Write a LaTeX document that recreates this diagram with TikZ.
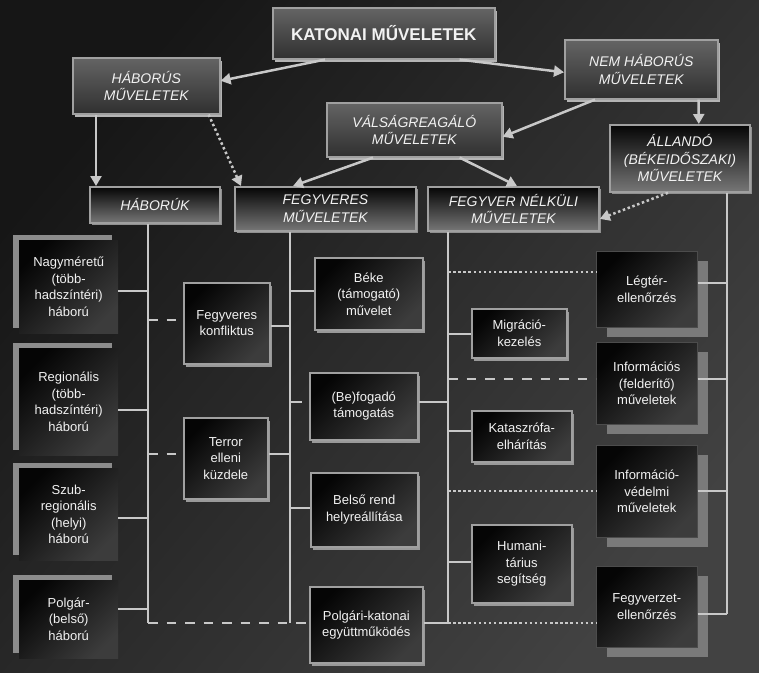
\documentclass[tikz,border=0pt]{standalone}
\usepackage{fontspec}
\setmainfont{Liberation Sans}
\usetikzlibrary{arrows.meta,shadows,calc}
\definecolor{bgdark}{HTML}{161616}
\definecolor{bglight}{HTML}{424242}
\definecolor{hdrtop}{HTML}{646464}
\definecolor{hdrbot}{HTML}{303030}
\definecolor{edge}{HTML}{A0A0A0}
\definecolor{shd}{HTML}{B4B4B4}
\definecolor{lin}{HTML}{C8C8C8}
\definecolor{txt}{HTML}{F2F2F2}
\definecolor{blk}{HTML}{050505}
\definecolor{sheen}{HTML}{3C3C3C}
\definecolor{lshd}{HTML}{8C8C8C}
\definecolor{rshd}{HTML}{7A7A7A}
\tikzset{
  base/.style={rectangle, anchor=north west, inner sep=2pt, align=center, text=txt,
    font=\fontsize{13}{16.5}\selectfont},
  hdrbox/.style={base, draw=edge, line width=1.6pt, top color=hdrtop, bottom color=hdrbot,
    font=\fontsize{14}{17.5}\selectfont\itshape,
    drop shadow={shadow xshift=2.5pt, shadow yshift=-3pt, fill=shd, opacity=1}},
  blkhdr/.style={base, draw=edge, line width=1.8pt, top color=blk, bottom color=sheen!70,
    font=\fontsize{14}{17.5}\selectfont\itshape,
    drop shadow={shadow xshift=2pt, shadow yshift=-2pt, fill=shd!80!black, opacity=1}},
  cbox/.style={base, draw=edge, line width=1.6pt, top color=blk, bottom color=sheen, shading angle=45,
    drop shadow={shadow xshift=2pt, shadow yshift=-3pt, fill=shd!85!black, opacity=1}},
  lbox/.style={base, top color=blk, bottom color=sheen, shading angle=45,
    drop shadow={shadow xshift=-6pt, shadow yshift=5pt, fill=lshd, opacity=1}},
  rbox/.style={base, draw=black!70, line width=0.6pt, top color=blk, bottom color=sheen, shading angle=45,
    drop shadow={shadow xshift=11pt, shadow yshift=-10pt, fill=rshd, opacity=1}},
  conn/.style={draw=lin, line width=2.5pt},
  dotl/.style={conn, dash pattern=on 2.5pt off 2.6pt},
  dashl/.style={conn, dash pattern=on 9.5pt off 9pt},
  arr/.style={conn, -{Triangle[length=10pt,width=11pt]}},
}
\begin{document}
\begin{tikzpicture}[x=1pt,y=-1pt]
\path[use as bounding box] (0,0) rectangle (759,672);
\shade[top color=bgdark, bottom color=bglight, shading angle=50] (0,0) rectangle (759,672);

% top level
\node[hdrbox, minimum width=222pt, minimum height=51pt,
  font=\fontsize{17}{20}\selectfont\bfseries] (kat) at (272,7) {KATONAI MŰVELETEK};
\node[hdrbox, minimum width=147pt, minimum height=56pt] (hab) at (72,57) {HÁBORÚS\\MŰVELETEK};
\node[hdrbox, minimum width=153pt, minimum height=59pt] (nem) at (564,39) {NEM HÁBORÚS\\MŰVELETEK};
\node[hdrbox, minimum width=175pt, minimum height=54pt] (val) at (326,102) {VÁLSÁGREAGÁLÓ\\MŰVELETEK};
\node[blkhdr, minimum width=140pt, minimum height=67pt] (all) at (609,124) {ÁLLANDÓ\\(BÉKEIDŐSZAKI)\\MŰVELETEK};
\node[blkhdr, minimum width=130pt, minimum height=36pt] (habk) at (89,186) {HÁBORÚK};
\node[blkhdr, minimum width=181pt, minimum height=44pt] (fegy) at (234,186) {FEGYVERES\\MŰVELETEK};
\node[blkhdr, minimum width=171pt, minimum height=44pt] (fnel) at (427,186) {FEGYVER NÉLKÜLI\\MŰVELETEK};

% left column
\node[lbox, minimum width=99pt, minimum height=93pt] (nagy) at (19,240) {Nagyméretű\\(több-\\hadszíntéri)\\háború};
\node[lbox, minimum width=99pt, minimum height=107pt] (reg) at (19,348) {Regionális\\(több-\\hadszíntéri)\\háború};
\node[lbox, minimum width=99pt, minimum height=92pt] (szub) at (19,468) {Szub-\\regionális\\(helyi)\\háború};
\node[lbox, minimum width=99pt, minimum height=78pt] (polg) at (19,580) {Polgár-\\(belső)\\háború};

% middle A
\node[cbox, minimum width=86pt, minimum height=81pt] (fk) at (183,282) {Fegyveres\\konfliktus};
\node[cbox, minimum width=84pt, minimum height=81pt] (ter) at (183,417) {Terror\\elleni\\küzdele};

% middle B
\node[cbox, minimum width=108pt, minimum height=72pt] (beke) at (314,257) {Béke\\(támogató)\\művelet};
\node[cbox, minimum width=108pt, minimum height=67pt] (befo) at (309,372) {(Be)fogadó\\támogatás};
\node[cbox, minimum width=107pt, minimum height=74pt] (bels) at (310,472) {Belső rend\\helyreállítása};
\node[cbox, minimum width=113pt, minimum height=76pt] (pk) at (309,586) {Polgári-katonai\\együttműködés};

% column C
\node[cbox, minimum width=95pt, minimum height=49pt] (migr) at (471,308) {Migráció-\\kezelés};
\node[cbox, minimum width=100pt, minimum height=51pt] (kat2) at (471,410) {Kataszrófa-\\elhárítás};
\node[cbox, minimum width=100pt, minimum height=78pt] (hum) at (471,524) {Humani-\\tárius\\segítség};

% column D
\node[rbox, minimum width=101pt, minimum height=76pt] (legt) at (596,251) {Légtér-\\ellenőrzés};
\node[rbox, minimum width=101pt, minimum height=82pt] (info) at (596,342) {Információs\\(felderítő)\\műveletek};
\node[rbox, minimum width=101pt, minimum height=92pt] (ivd) at (596,445) {Információ-\\védelmi\\műveletek};
\node[rbox, minimum width=101pt, minimum height=81pt] (fegyz) at (596,566) {Fegyverzet-\\ellenőrzés};

% trunk coordinates
\coordinate (tA) at (148,623);
\coordinate (tB) at (290,623);
\coordinate (tC) at (448,623);
\coordinate (tD) at (727,614);

% arrows
\draw[arr] ([xshift=53pt]kat.south west) -- ([yshift=5pt]hab.east);
\draw[arr] ([xshift=-36pt]kat.south east) -- ([yshift=-3pt]nem.west);
\draw[arr] ([xshift=31pt]nem.south west) -- ([yshift=-7pt]val.east);
\draw[arr] ([xshift=-20pt]nem.south east) -- ([xshift=-52pt]all.north east);
\draw[arr] ([xshift=24pt]hab.south west) -- ([xshift=7pt]habk.north west);
\draw[arr, dash pattern=on 2.5pt off 2.6pt] ([xshift=-12pt]hab.south east) -- ([xshift=7pt]fegy.north west);
\draw[arr] ([xshift=47pt]val.south west) -- ([xshift=59pt]fegy.north west);
\draw[arr] ([xshift=-43pt]val.south east) -- ([xshift=90pt]fnel.north west);
\draw[arr, dash pattern=on 2.5pt off 2.6pt] ([xshift=59pt]all.south west) -- ([yshift=-10pt]fnel.east);

% trunks
\draw[conn] (habk.south -| tA) -- (tA);
\draw[conn] (fegy.south -| tB) -- (tB);
\draw[conn] (fnel.south -| tC) -- (tC);
\draw[conn] (all.south -| tD) -- (tD);

% left column connectors
\coordinate (a1) at (148,291);
\coordinate (a2) at (148,410);
\coordinate (a3) at (148,518);
\coordinate (a4) at (148,609);
\draw[conn] (a1 -| nagy.east) -- (a1);
\draw[conn] (a2 -| reg.east) -- (a2);
\draw[conn] (a3 -| szub.east) -- (a3);
\draw[conn] (a4 -| polg.east) -- (a4);

% middle A connectors
\coordinate (fkl) at (148,320);
\coordinate (fkr) at (290,326);
\coordinate (terl) at (148,454);
\coordinate (terr) at (290,454);
\draw[dashl] (fkl) -- (fkl -| fk.west);
\draw[conn] (fkr -| fk.east) -- (fkr);
\draw[dashl] (terl) -- (terl -| ter.west);
\draw[conn] (terr -| ter.east) -- (terr);

% middle B connectors
\coordinate (b1) at (290,291);
\coordinate (b2) at (290,402);
\coordinate (b2s) at (302,402);
\coordinate (b2r) at (448,402);
\coordinate (b3) at (290,508);
\draw[conn] (b1) -- (b1 -| beke.west);
\draw[conn] (b2) -- (b2s);
\draw[conn] (b2r -| befo.east) -- (b2r);
\draw[conn] (b3) -- (b3 -| bels.west);
\draw[dashl] (tA) -- (tA -| pk.west);
\draw[conn] (tC -| pk.east) -- (tC);
\draw[dotl] (tC) -- (tC -| fegyz.west);

% column C connectors
\coordinate (c1) at (448,334);
\coordinate (c2) at (448,431);
\coordinate (c3) at (448,562);
\draw[conn] (c1) -- (c1 -| migr.west);
\draw[conn] (c2) -- (c2 -| kat2.west);
\draw[conn] (c3) -- (c3 -| hum.west);

% column D connectors
\coordinate (d1l) at (448,272);
\coordinate (d1r) at (727,283);
\coordinate (d2l) at (448,379);
\coordinate (d2r) at (727,379);
\coordinate (d3l) at (448,491);
\coordinate (d3r) at (727,491);
\draw[dotl] (d1l) -- (d1l -| legt.west);
\draw[conn] (d1r -| legt.east) -- (d1r);
\draw[dashl] (d2l) -- (d2l -| info.west);
\draw[conn] (d2r -| info.east) -- (d2r);
\draw[dotl] (d3l) -- (d3l -| ivd.west);
\draw[conn] (d3r -| ivd.east) -- (d3r);
\draw[conn] (tD -| fegyz.east) -- (tD);
\end{tikzpicture}
\end{document}
